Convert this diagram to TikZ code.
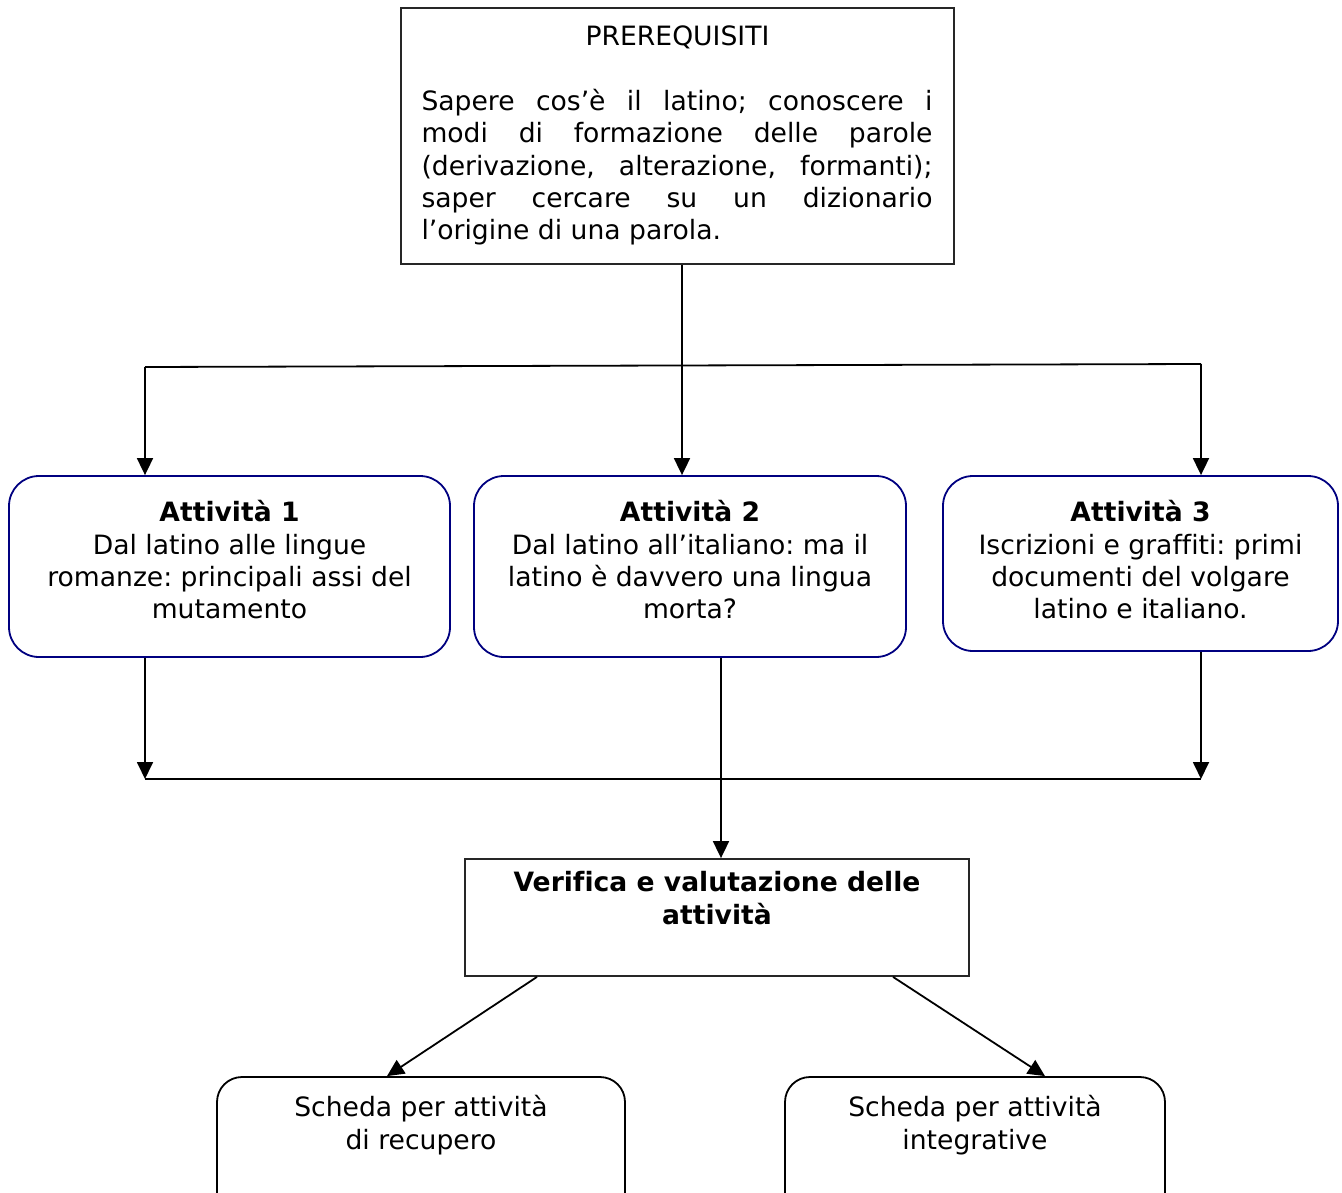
\documentclass[tikz,border=0pt]{standalone}
\usepackage{fontspec}
\setmainfont[Ligatures={NoCommon}]{DejaVu Sans}
\usetikzlibrary{arrows.meta,calc}
\definecolor{navy}{RGB}{0,0,128}
\frenchspacing
\newcommand{\txtsize}{\fontsize{26.6}{32.3}\selectfont}
\newcommand{\cbox}[2]{\parbox[t]{#1}{\centering\txtsize #2}}
\begin{document}
\begin{tikzpicture}[x=1pt,y=-1pt,
  sqbox/.style={draw=black!85, line width=1.8pt, rectangle, inner sep=0pt},
  rbox/.style={draw=navy, line width=1.8pt, rectangle, rounded corners=30pt, inner sep=0pt},
  kbox/.style={draw=black, line width=1.8pt, rectangle, rounded corners=25pt, inner sep=0pt},
  txt/.style={anchor=base, inner sep=0pt, font=\txtsize},
  conn/.style={line width=1.8pt, black},
  arr/.style={conn, -{Triangle[length=17pt,width=16pt]}}]
\useasboundingbox (0,0) rectangle (1342,1193);
\clip (0,0) rectangle (1342,1193);
\fill[white] (0,0) rectangle (1342,1193);
% boxes
\node[sqbox, minimum width=553pt, minimum height=256pt] (pre) at (677.5,136) {};
\node[rbox, minimum width=441pt, minimum height=181pt] (a1) at (229.5,566.5) {};
\node[rbox, minimum width=432pt, minimum height=181pt] (a2) at (690,566.5) {};
\node[rbox, minimum width=395pt, minimum height=175pt] (a3) at (1140.5,563.5) {};
\node[sqbox, minimum width=504pt, minimum height=117pt] (ver) at (717,917.5) {};
\node[kbox, minimum width=408pt, minimum height=150pt] (s1) at (421,1152) {};
\node[kbox, minimum width=380pt, minimum height=150pt] (s2) at (975,1152) {};
% texts
\node[txt] (pret) at (677.5,46) {PREREQUISITI};
\node[txt] (pretx) at (677,110.7) {\parbox[t]{511pt}{\txtsize
Sapere cos’è il latino; conoscere i\linebreak
modi di formazione delle parole\linebreak
(derivazione, alterazione, formanti);\linebreak
saper cercare su un dizionario\linebreak
l’origine di una parola.}};
\node[txt] (a1t) at (229.5,521.7) {\cbox{430pt}{\textbf{Attività 1}\\Dal latino alle lingue\\romanze: principali assi del\\mutamento}};
\node[txt] (a2t) at (690,521.7) {\cbox{425pt}{\textbf{Attività 2}\\Dal latino all’italiano: ma il\\latino è davvero una lingua\\morta?}};
\node[txt] (a3t) at (1140.5,521.7) {\cbox{390pt}{\textbf{Attività 3}\\Iscrizioni e graffiti: primi\\documenti del volgare\\latino e italiano.}};
\node[txt] (vert) at (717,891.7) {\cbox{500pt}{\textbf{Verifica e valutazione delle\\attività}}};
\node[txt] (s1t) at (421,1116.7) {\cbox{400pt}{Scheda per attività\\di recupero}};
\node[txt] (s2t) at (975,1116.7) {\cbox{370pt}{Scheda per attività\\integrative}};
% connectors
\coordinate (hl) at (145,367);
\coordinate (hr) at (1201,364);
\coordinate (bl) at (145,779);
\coordinate (br) at (1201,779);
\draw[arr] (pre.south -| 682,0) -- (a2.north -| 682,0);
\draw[conn] (hl) -- (hr);
\draw[arr] (hl) -- (hl |- a1.north);
\draw[arr] (hr) -- (hr |- a3.north);
\draw[arr] (a1.south -| bl) -- (bl);
\draw[arr] (a3.south -| br) -- (br);
\draw[conn] (bl) -- (br);
\draw[arr] (a2.south -| 721,0) -- (ver.north -| 721,0);
\draw[arr] ($(ver.south)+(-180,0)$) -- ($(s1.north)+(-34,0)$);
\draw[arr] ($(ver.south)+(176,0)$) -- ($(s2.north)+(70,0)$);
\end{tikzpicture}
\end{document}
